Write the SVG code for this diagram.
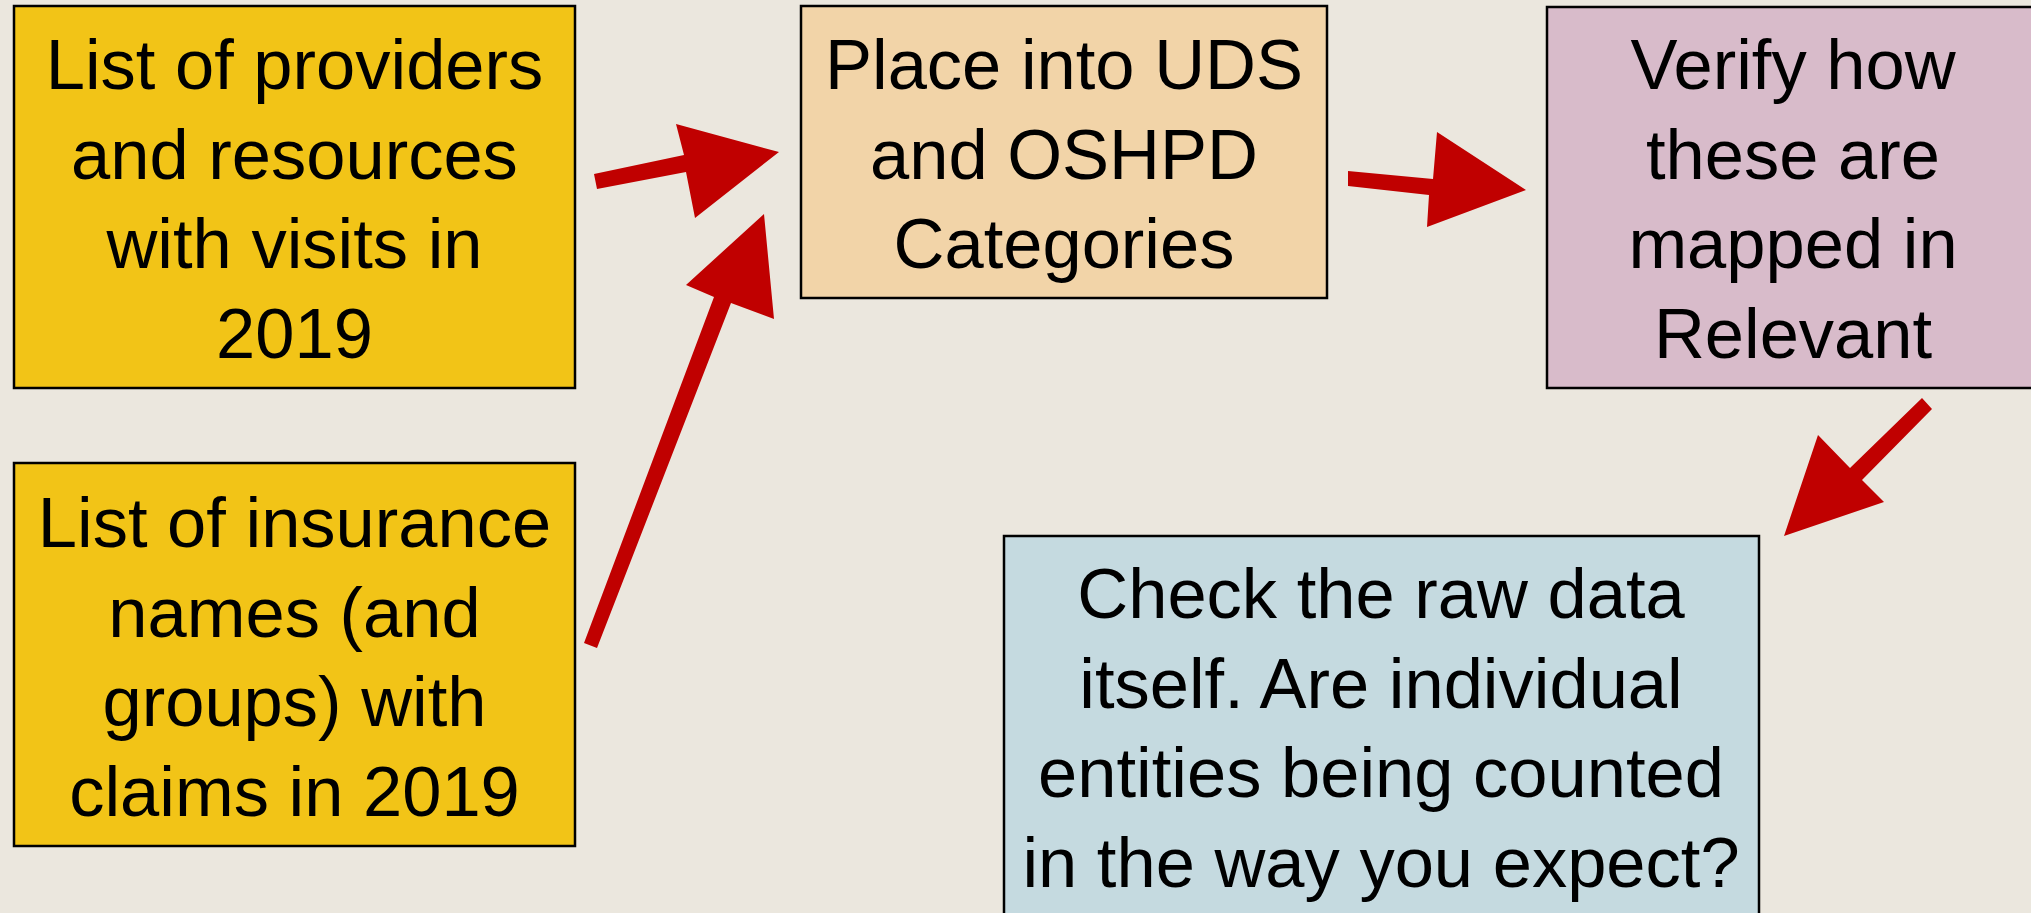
<svg xmlns="http://www.w3.org/2000/svg" width="2031" height="913" viewBox="0 0 2031 913">
<style>
.box{stroke:#000;stroke-width:2.5}
.t{font-family:"Liberation Sans",Arial,sans-serif;font-size:70.5px;fill:#000;text-anchor:middle}
.arr{fill:#C00000}
</style>
<rect x="0" y="0" width="2031" height="913" fill="#EBE7DE"/>
<g id="node-providers">
<rect class="box" x="14" y="6" width="561" height="382" fill="#F2C417"/>
<text class="t" x="294.5" y="89">List of providers</text>
<text class="t" x="294.5" y="179">and resources</text>
<text class="t" x="294.5" y="268">with visits in</text>
<text class="t" x="294.5" y="358">2019</text>
</g>
<g id="node-insurance">
<rect class="box" x="14" y="463" width="561" height="383" fill="#F2C417"/>
<text class="t" x="294.5" y="547">List of insurance</text>
<text class="t" x="294.5" y="637">names (and</text>
<text class="t" x="294.5" y="726">groups) with</text>
<text class="t" x="294.5" y="816">claims in 2019</text>
</g>
<g id="node-place">
<rect class="box" x="801" y="6" width="526" height="292" fill="#F2D4A8"/>
<text class="t" x="1064" y="89">Place into UDS</text>
<text class="t" x="1064" y="179">and OSHPD</text>
<text class="t" x="1064" y="268">Categories</text>
</g>
<g id="node-verify">
<rect class="box" x="1547" y="7" width="494" height="381" fill="#D8BBCA"/>
<text class="t" x="1793" y="89">Verify how</text>
<text class="t" x="1793" y="179">these are</text>
<text class="t" x="1793" y="268">mapped in</text>
<text class="t" x="1793" y="358">Relevant</text>
</g>
<g id="node-check">
<rect class="box" x="1004" y="536" width="755" height="400" fill="#C5DAE0"/>
<text class="t" x="1381" y="618">Check the raw data</text>
<text class="t" x="1381" y="708">itself. Are individual</text>
<text class="t" x="1381" y="797">entities being counted</text>
<text class="t" x="1381" y="887">in the way you expect?</text>
</g>
<g id="connectors">
<polygon class="arr" points="594,174 684,155 676,124 779,152 695,218 686,172 597,189"/>
<polygon class="arr" points="584,643 714,297 686,285 764,214 774,319 731,303 597,648"/>
<polygon class="arr" points="1348,171 1433,179 1437,132 1526,190 1427,227 1429,195 1348,186"/>
<polygon class="arr" points="1922,398 1850,468 1818,435 1784,536 1884,502 1862,480 1932,409"/>
</g>
</svg>
